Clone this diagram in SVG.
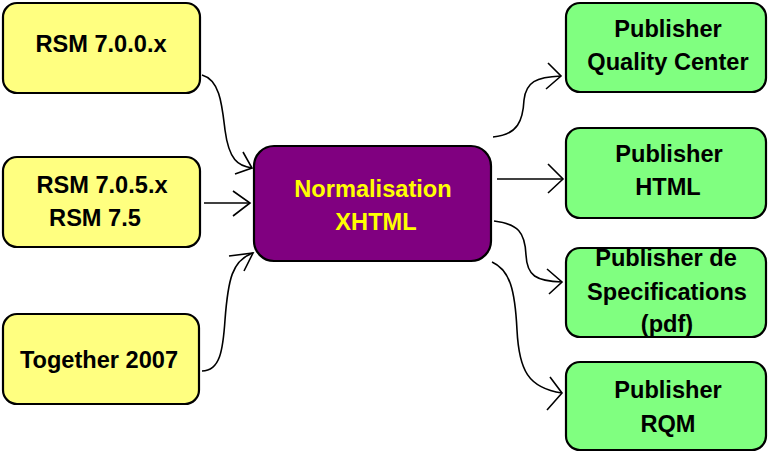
<svg xmlns="http://www.w3.org/2000/svg" width="772" height="455" viewBox="0 0 772 455">
<style>
.src{fill:#FFFF80;stroke:#000;stroke-width:2.2}
.dst{fill:#80FF80;stroke:#000;stroke-width:2.2}
.mid{fill:#800080;stroke:#000;stroke-width:2.2}
text{font-family:"Liberation Sans",Arial,sans-serif;font-weight:bold;font-size:23.6px;text-anchor:middle}
.dk{fill:#000}
.yl{fill:#FFFF00}
.c{fill:none;stroke:#000;stroke-width:1.6}
</style>
<rect width="772" height="455" fill="#fff"/>
<g id="n1"><rect class="src" x="3" y="3" width="197" height="90" rx="14"/><text class="dk" x="101" y="52">RSM 7.0.0.x</text></g>
<g id="n2"><rect class="src" x="3" y="157" width="197" height="90" rx="14"/><text class="dk" x="102" y="193">RSM 7.0.5.x</text><text class="dk" x="95" y="226">RSM 7.5</text></g>
<g id="n3"><rect class="src" x="3" y="314" width="196" height="90" rx="14"/><text class="dk" x="99" y="368">Together 2007</text></g>
<g id="center"><rect class="mid" x="254" y="146" width="237" height="115" rx="20"/><text class="yl" x="373" y="197">Normalisation</text><text class="yl" x="376" y="230">XHTML</text></g>
<g id="p1"><rect class="dst" x="566" y="3" width="200" height="89" rx="14"/><text class="dk" x="668" y="37">Publisher</text><text class="dk" x="668" y="70">Quality Center</text></g>
<g id="p2"><rect class="dst" x="566" y="128" width="200" height="90" rx="14"/><text class="dk" x="669" y="162">Publisher</text><text class="dk" x="668" y="195">HTML</text></g>
<g id="p3"><rect class="dst" x="566" y="248" width="200" height="89" rx="14"/><text class="dk" x="666" y="266">Publisher de</text><text class="dk" x="667" y="300">Specifications</text><text class="dk" x="667" y="332">(pdf)</text></g>
<g id="p4"><rect class="dst" x="566" y="362" width="200" height="88" rx="14"/><text class="dk" x="668" y="398">Publisher</text><text class="dk" x="668" y="432">RQM</text></g>
<g id="connectors">
<path class="c" d="M202,75 C220,80 222,105 225,130 C229,160 238,166 252,168"/>
<path class="c" d="M243,152 L252,168 L235,174"/>
<path class="c" d="M204,203 L250,203"/>
<path class="c" d="M233,191 L250,203 L233,216"/>
<path class="c" d="M202,371 C220,371 223,350 225,320 C228,280 232,260 253,253"/>
<path class="c" d="M229,256 L253,253 L244,271"/>
<path class="c" d="M493,137 C518,135 523,120 524,100 C526,82 536,77 561,76"/>
<path class="c" d="M548,63 L561,76 L546,89"/>
<path class="c" d="M497,179 L563,179"/>
<path class="c" d="M548,164 L563,179 L548,193"/>
<path class="c" d="M494,221 C518,224 525,232 526,255 C527,276 536,281 562,282"/>
<path class="c" d="M547,269 L562,282 L549,294"/>
<path class="c" d="M492,262 C510,270 515,290 517,330 C519,370 528,388 562,393"/>
<path class="c" d="M550,377 L562,393 L547,410"/>
</g>
</svg>
